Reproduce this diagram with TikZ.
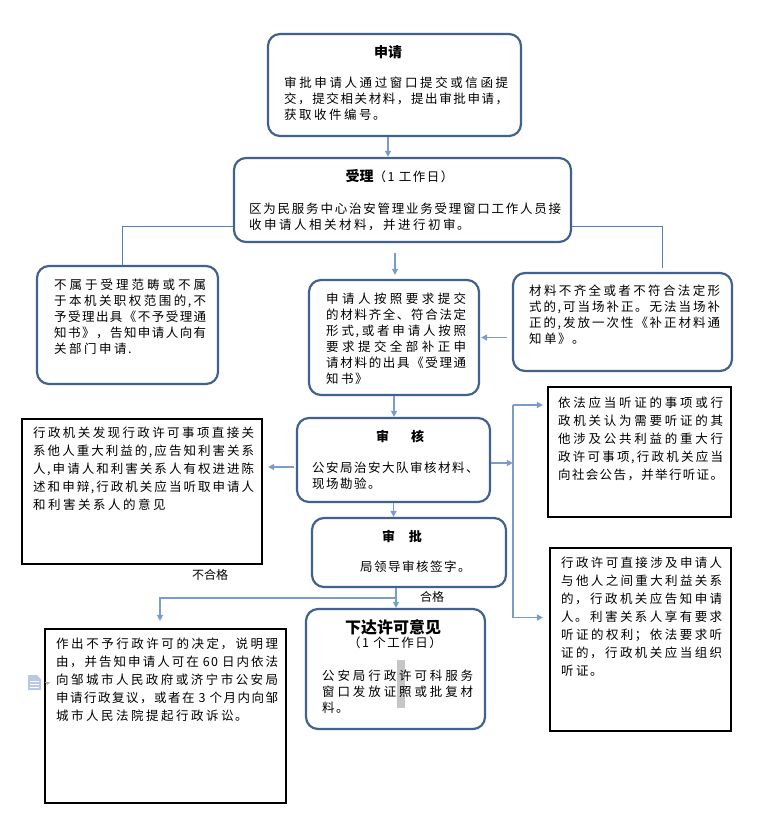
\documentclass[tikz,border=0pt]{standalone}
\usepackage{fontspec}
\usepackage{tikz}
\usetikzlibrary{arrows.meta,calc,positioning}
\newfontfamily\cjk{Noto Sans CJK SC}
\newfontfamily\cjkw[LetterSpace=12]{Noto Sans CJK SC}
\XeTeXlinebreaklocale "zh"
\XeTeXlinebreakskip=2.5pt plus 3pt minus 1.3pt
\XeTeXlinebreakpenalty=10000
\definecolor{boxblue}{HTML}{41628F}
\definecolor{arrowblue}{HTML}{7A9CCB}
\definecolor{lineblue}{HTML}{4F81BD}
\definecolor{iconblue}{HTML}{B7C9E5}
% one justified line, one ragged line
\newcommand\jline[1]{{\parfillskip=0pt\noindent#1\par}}
\newcommand\pline[1]{{\parfillskip=0pt plus 1fil\noindent#1\par}}

\begin{document}
\begin{tikzpicture}[x=1pt,y=-1pt,
  rbox/.style={draw=boxblue,line width=2.2pt,rounded corners=12pt},
  sbox/.style={draw=black,line width=2.2pt},
  head/.style={inner sep=0pt,font=\cjk\bfseries\fontsize{14}{16}\selectfont},
  body/.style={anchor=base west,inner sep=0pt,font=\cjkw\fontsize{12.5}{16}\selectfont},
  sqbody/.style={body,font=\cjkw\fontsize{12.5}{18}\selectfont},
  note/.style={inner sep=0pt,font=\cjk\fontsize{12}{14}\selectfont},
  arr/.style={draw=arrowblue,line width=1.4pt,-{Triangle[length=6pt,width=6pt]}},
  link/.style={draw=lineblue,line width=1pt}]
\useasboundingbox (0,0) rectangle (759,829);
% Boxes
\node[rbox,minimum width=253pt,minimum height=102pt] (apply) at (394.5,85) {};
\node[rbox,minimum width=337pt,minimum height=84pt] (accept) at (402.5,200) {};
\node[rbox,minimum width=181pt,minimum height=118pt] (reject) at (127.5,325) {};
\node[rbox,minimum width=170pt,minimum height=115pt] (accepted) at (394,337.5) {};
\node[rbox,minimum width=219pt,minimum height=98pt] (fixup) at (622.5,322) {};
\node[rbox,minimum width=193pt,minimum height=84pt] (review) at (393.5,460) {};
\node[sbox,minimum width=240pt,minimum height=145pt] (hearl) at (142,491.5) {};
\node[rbox,minimum width=194pt,minimum height=69pt] (approve) at (409,552.5) {};
\node[rbox,minimum width=179pt,minimum height=120pt] (issue) at (395.5,669) {};
\node[sbox,minimum width=241pt,minimum height=174pt] (deny) at (165.5,716) {};
\node[sbox,minimum width=183pt,minimum height=130pt] (heara) at (639.5,452) {};
\node[sbox,minimum width=181pt,minimum height=183pt] (hearb) at (640.5,639.5) {};
% Highlight in the last box
\fill[gray!45] (397,660) rectangle (405,708);
% Texts
\node[head] (apply-h) at (388,52) {申请};
\node[body] (apply-t) at (284,87.6) {\vtop{\hsize=224pt
  \jline{审批申请人通过窗口提交或信函提}
  \jline{交，提交相关材料，提出审批申请，}
  \pline{获取收件编号。}}};
\node[head] (accept-h) at (399.5,176) {受理{\cjkw\mdseries\fontsize{12.5}{16}\selectfont（1~工作日）}};
\node[body] (accept-t) at (249,213.6) {\vtop{\hsize=312pt
  \jline{区为民服务中心治安管理业务受理窗口工作人员接}
  \pline{收申请人相关材料，并进行初审。}}};
\node[body] (reject-t) at (54,289.6) {\vtop{\hsize=152pt
  \jline{不属于受理范畴或不属}
  \jline{于本机关职权范围的,不}
  \jline{予受理出具《不予受理通}
  \jline{知书》，告知申请人向有}
  \pline{关部门申请.}}};
\node[body] (accepted-t) at (326,303.6) {\vtop{\hsize=140pt
  \jline{申请人按照要求提交}
  \jline{的材料齐全、符合法定}
  \jline{形式,或者申请人按照}
  \jline{要求提交全部补正申}
  \jline{请材料的出具《受理通}
  \pline{知书》}}};
\node[body] (fixup-t) at (529,295.6) {\vtop{\hsize=191pt
  \jline{材料不齐全或者不符合法定形}
  \jline{式的,可当场补正。无法当场补}
  \jline{正的,发放一次性《补正材料通}
  \pline{知单》。}}};
\node[head,font=\cjk\bfseries\fontsize{13}{15}\selectfont] (review-h) at (400,436) {审\hspace{22pt}核};
\node[body] (review-t) at (312,472.6) {\vtop{
  \hbox{公安局治安大队审核材料、}
  \hbox{现场勘验。}}};
\node[sqbody] (hearl-t) at (33,437.6) {\vtop{\hsize=221pt
  \jline{行政机关发现行政许可事项直接关}
  \jline{系他人重大利益的,应告知利害关系}
  \jline{人,申请人和利害关系人有权进进陈}
  \jline{述和申辩,行政机关应当听取申请人}
  \pline{和利害关系人的意见}}};
\node[head,font=\cjk\bfseries\fontsize{13}{15}\selectfont] (approve-h) at (402,536) {审\hspace{14pt}批};
\node[body] (approve-t) at (360,571.6) {局领导审核签字。};
\node[head,font=\cjk\bfseries\fontsize{16}{18}\selectfont] (issue-h) at (393,627) {下达许可意见};
\node[note,font=\cjkw\fontsize{12.5}{14}\selectfont] (issue-d) at (395,643) {（1~个工作日）};
\node[body] (issue-t) at (322,680.6) {\vtop{\hsize=151pt
  \jline{公安局行政许可科服务}
  \jline{窗口发放证照或批复材}
  \pline{料。}}};
\node[sqbody] (deny-t) at (56,648.6) {\vtop{\hsize=222pt
  \jline{作出不予行政许可的决定，说明理}
  \jline{由，并告知申请人可在\kern4pt 60\kern4pt 日内依法}
  \jline{向邹城市人民政府或济宁市公安局}
  \jline{申请行政复议，或者在\kern4pt 3\kern4pt 个月内向邹}
  \pline{城市人民法院提起行政诉讼。}}};
\node[sqbody] (heara-t) at (558,407.6) {\vtop{\hsize=165pt
  \jline{依法应当听证的事项或行}
  \jline{政机关认为需要听证的其}
  \jline{他涉及公共利益的重大行}
  \jline{政许可事项,行政机关应当}
  \jline{向社会公告，并举行听证。}}};
\node[sqbody] (hearb-t) at (561,567.6) {\vtop{\hsize=161pt
  \jline{行政许可直接涉及申请人}
  \jline{与他人之间重大利益关系}
  \jline{的，行政机关应告知申请}
  \jline{人。利害关系人享有要求}
  \jline{听证的权利；依法要求听}
  \jline{证的，行政机关应当组织}
  \pline{听证。}}};
\node[note] (fail) at (210,575) {不合格};
\node[note] (pass) at (432,597) {合格};
% Connectors
\coordinate (a1) at ($(apply.south)+(-6.5,0)$);
\draw[arr] (a1) -- (a1 |- accept.north);
\coordinate (a2) at ($(accept.west)+(0,26)$);
\draw[link] (a2) -| ($(reject.north)+(-5.5,0)$);
\coordinate (a3) at ($(accept.east)+(0,26)$);
\draw[link] (a3) -| ($(fixup.north)+(39.5,-4)$);
\coordinate (a4) at ($(accepted.north)+(1,-26)$);
\draw[arr,shorten >=4pt] (a4) -- (a4 |- accepted.north);
\draw[arr,shorten <=5pt,shorten >=1pt] (accepted.east -| fixup.west) -- (accepted.east);
\draw[arr] (accepted.south) -- (accepted.south |- review.north);
\coordinate (r1) at ($(review.west)+(-2,7)$);
\draw[arr,shorten >=5pt] (r1) -- (r1 -| hearl.east);
\coordinate (r2) at ($(review.east)+(0,3)$);
\coordinate (bus-t) at ($(heara.west)+(-34,-47)$);
\coordinate (bus-b) at ($(hearb.west)+(-36,-22)$);
\draw[arrowblue,line width=1.4pt] (bus-t) -- (bus-b);
\draw[arr] (r2) -- (r2 -| bus-t);
\draw[arr,shorten >=4pt] (bus-t) -- (bus-t -| heara.west);
\draw[arr,shorten >=6pt] (bus-b) -- (bus-b -| hearb.west);
\draw[arr] (review.south) -- (review.south |- approve.north);
\coordinate (p1) at ($(approve.south)+(-13,0)$);
\draw[arr] (p1) -- (p1 |- issue.north);
\coordinate (p2) at ($(p1)+(0,10)$);
\draw[arr] (p2) -| ($(deny.north)+(-5.5,-7)$);
% Comment mark
\fill[iconblue] (28,675) -- (37,675) -- (41,679) -- (41,690) -- (28,690) -- cycle;
\draw[white,line width=0.8pt] (30,681) -- (39,681) (30,684) -- (39,684) (30,687) -- (39,687);
\fill[gray!60] (45,682) -- (50,682) -- (47.5,685) -- cycle;
\end{tikzpicture}
\end{document}
